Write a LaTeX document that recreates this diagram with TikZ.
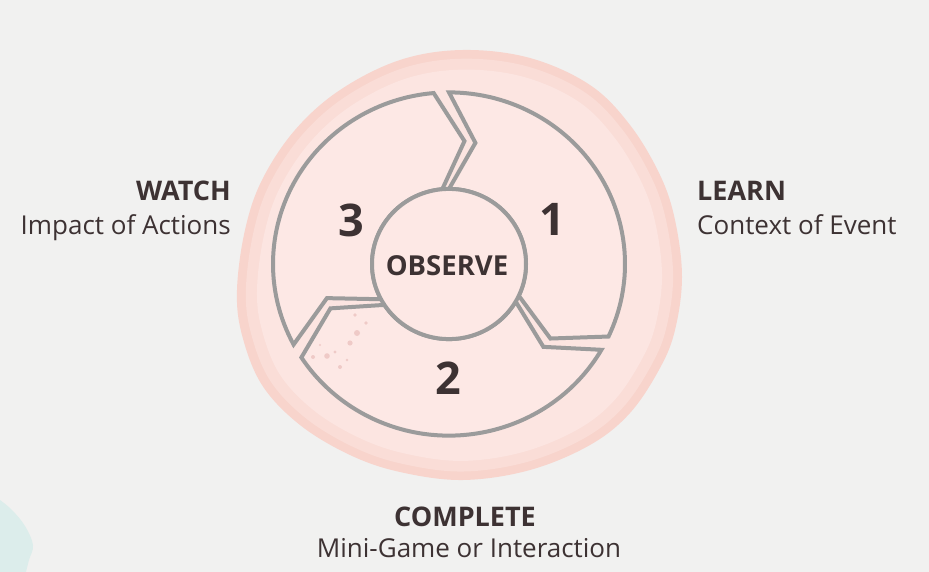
\documentclass[tikz,border=0pt]{standalone}
\usepackage{fontspec}
\setmainfont{Open Sans}
\definecolor{bg}{HTML}{F1F1F0}
\definecolor{blobA}{HTML}{F8D4CC}
\definecolor{blobB}{HTML}{FADDD7}
\definecolor{blobC}{HTML}{FCE5E1}
\definecolor{ringfill}{HTML}{FDE8E5}
\definecolor{ringline}{HTML}{9B9B9B}
\definecolor{ink}{HTML}{3D3233}
\definecolor{tealwash}{HTML}{DCEDEB}
\definecolor{splat}{HTML}{ECC3C0}
\newcommand\myblob{plot[smooth cycle, tension=0.6] coordinates {(463,-50) (530,-58) (590,-85) (630,-125) (660,-175) (675,-220) (682,-277) (675,-330) (660,-368) (630,-413) (590,-445) (530,-470) (463,-480) (400,-472) (350,-455) (300,-425) (262,-385) (242,-335) (237,-290) (245,-230) (262,-180) (295,-130) (340,-90) (400,-60)}}
\newcommand\ringseg[2]{\draw[seg] (#1:176) arc[start angle=#1, end angle=#2, radius=176] -- ({#2-12}:127) -- (#2:77) arc[start angle=#2, end angle=#1, radius=77] -- ({#1-12}:127) -- cycle;}
\begin{document}
\begin{tikzpicture}[x=1pt,y=1pt,
  seg/.style={fill=ringfill, draw=ringline, line width=4pt, line join=miter},
  num/.style={text=ink, font=\fontsize{45}{50}\selectfont\bfseries, inner sep=0pt},
  head/.style={text=ink, font=\fontsize{27}{31}\selectfont\bfseries, inner sep=0pt},
  sub/.style={text=ink, font=\fontsize{26}{30}\selectfont, inner sep=0pt}]
\useasboundingbox (0,0) rectangle (929,-572);
\fill[bg] (0,0) rectangle (929,-572);
% teal wash bottom-left
\fill[tealwash] plot[smooth, tension=0.6] coordinates {(0,-500) (12,-510) (25,-526) (33,-545) (29,-560) (26,-572)} -- (0,-572) -- cycle;
% watercolour blob
\fill[blobA] \myblob;
\begin{scope}[shift={(460,-268)}, scale=0.96, shift={(-460,268)}]
  \fill[blobB] \myblob;
\end{scope}
\begin{scope}[shift={(460,-268)}, scale=0.91, shift={(-460,268)}]
  \fill[blobC] \myblob;
\end{scope}
% ring
\begin{scope}[shift={(449,-264)}, yscale=0.975]
  \ringseg{90}{-25}
  \ringseg{-30}{-147}
  \ringseg{-152}{-265}
  \draw[seg] (0,0) circle[radius=77];
\end{scope}
% splatter
\begin{scope}[splat, opacity=0.8]
  \fill (357,-333) circle (3);
  \fill (366,-323) circle (1.8);
  \fill (350,-343) circle (2.6);
  \fill (335,-352) circle (1.6);
  \fill (327,-356) circle (2.8);
  \fill (313,-357) circle (2);
  \fill (340,-367) circle (2);
  \fill (347,-360) circle (1.4);
  \fill (355,-315) circle (1.8);
  \fill (320,-345) circle (1.2);
\end{scope}
% texts in ring
\node[text=ink, font=\fontsize{27.5}{31}\selectfont\bfseries, inner sep=0pt] (observe) at (447,-266) {OBSERVE};
\node[num] (n3) at (351,-220) {3};
\node[num] (n1) at (552,-219) {1};
\node[num] (n2) at (448,-378) {2};
% side labels
\node[head, anchor=base east] (watch) at (231,-201) {WATCH};
\node[sub, anchor=base east] (watchsub) at (231,-234) {Impact of Actions};
\node[head, anchor=base west] (learn) at (697,-201) {LEARN};
\node[sub, anchor=base west] (learnsub) at (697,-234) {Context of Event};
\node[head, anchor=base] (complete) at (465,-526) {COMPLETE};
\node[sub, anchor=base] (completesub) at (469,-557) {Mini-Game or Interaction};
\end{tikzpicture}
\end{document}
